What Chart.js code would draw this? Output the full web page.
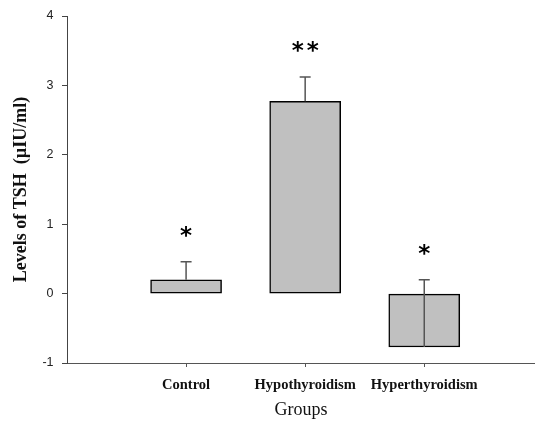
<!DOCTYPE html>
<html>
<head>
<meta charset="utf-8">
<script src="https://cdn.jsdelivr.net/npm/chart.js@4.4.1/dist/chart.umd.min.js"></script>
<style>
  html, body { margin: 0; padding: 0; background: #fff; }
  #wrap { width: 535px; height: 423px; }
</style>
</head>
<body>
<div id="wrap"><canvas id="tshChart" width="535" height="423"></canvas></div>
<script>
// data
const groups = ['Control', 'Hypothyroidism', 'Hyperthyroidism'];
const tshMeans = [0.2, 2.77, -0.77];
const tshErrors = [0.26, 0.35, 0.97];   // drawn upward from the bar value
const sigMarks = ['*', '**', '*'];
const yTicks = [-1, 0, 1, 2, 3, 4];

// groups sit at 1, 2, 3 on a linear x axis
const groupPos = groups.map((g, i) => i + 1);

// error bars + significance stars
const errorBarPlugin = {
  id: 'errorBars',
  afterDatasetsDraw(chart) {
    const xs = chart.scales.x, ys = chart.scales.y, ctx = chart.ctx;
    ctx.save();
    groupPos.forEach((p, i) => {
      const x = xs.getPixelForValue(p);
      const yBar = ys.getPixelForValue(tshMeans[i]);
      const yTop = ys.getPixelForValue(tshMeans[i] + tshErrors[i]);
      ctx.strokeStyle = '#555';
      ctx.lineWidth = 1.5;
      ctx.beginPath();
      ctx.moveTo(x, yBar);
      ctx.lineTo(x, yTop);
      ctx.moveTo(x - 5.5, yTop);
      ctx.lineTo(x + 5.5, yTop);
      ctx.stroke();
      // star above the cap
      ctx.fillStyle = '#000';
      ctx.font = 'bold 23px "DejaVu Sans"';
      ctx.letterSpacing = '3px';
      ctx.textAlign = 'center';
      ctx.textBaseline = 'middle';
      ctx.fillText(sigMarks[i], x + 1.5, yTop - 25);
    });
    ctx.restore();
  }
};

new Chart(document.getElementById('tshChart'), {
  type: 'bar',
  data: {
    datasets: [{
      data: groupPos.map((p, i) => ({ x: p, y: tshMeans[i] })),
      backgroundColor: '#c0c0c0',
      borderColor: '#000',
      borderWidth: 1.5,
      borderSkipped: false,
      barThickness: 71
    }]
  },
  options: {
    responsive: false,
    animation: false,
    layout: { padding: { top: 16, right: 0, bottom: 0, left: 0 } },
    plugins: { legend: { display: false }, tooltip: { enabled: false } },
    scales: {
      x: {
        type: 'linear',
        offset: false,
        min: 0,
        max: 3.93,
        afterBuildTicks: s => { s.ticks = groupPos.map(v => ({ value: v })); },
        afterFit: s => { s.height = 60; },
        grid: { offset: false, drawOnChartArea: false, tickLength: 4, color: '#555' },
        border: { color: '#555', width: 1 },
        ticks: {
          padding: 9.4,
          color: '#111',
          font: { family: '"Liberation Serif"', size: 14.5, weight: 'bold' },
          callback: v => groups[v - 1] || ''
        },
        title: {
          display: true,
          text: 'Groups',
          color: '#111',
          padding: { top: 0, bottom: 2.2 },
          font: { family: '"Liberation Serif"', size: 18 }
        }
      },
      y: {
        min: -1,
        max: 4,
        afterBuildTicks: s => { s.ticks = yTicks.map(v => ({ value: v })); },
        afterFit: s => { s.width = 67; },
        grid: { drawOnChartArea: false, tickLength: 5, color: '#444' },
        border: { color: '#444', width: 1 },
        ticks: {
          padding: 8.5,
          color: '#222',
          font: { family: '"Liberation Sans"', size: 12.5 }
        },
        title: {
          display: true,
          text: 'Levels of TSH  (\u00b5IU/ml)',
          color: '#111',
          padding: { top: 10.8, bottom: 0 },
          font: { family: '"Liberation Serif"', size: 18, weight: 'bold' }
        }
      }
    }
  },
  plugins: [errorBarPlugin]
});
</script>
</body>
</html>
